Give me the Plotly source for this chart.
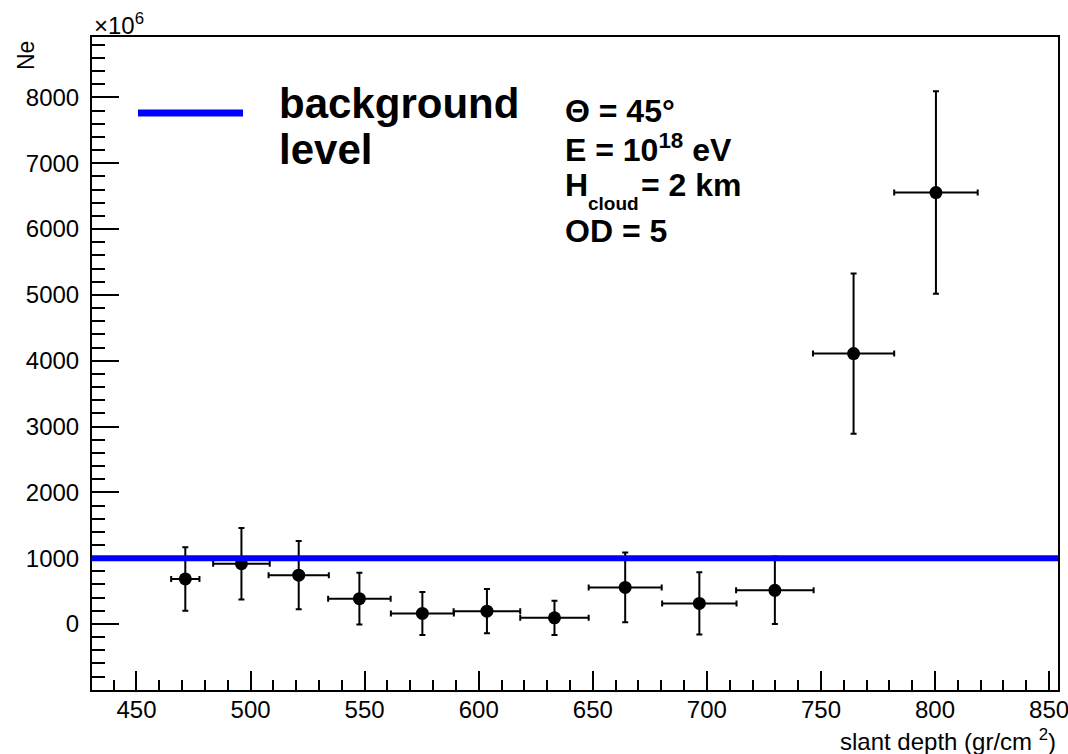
import plotly.graph_objects as go

# ---- data ----
slant_depth = [471.4, 496.0, 521.1, 547.7, 575.3, 603.6, 633.2, 664.2, 696.7, 729.8, 764.3, 800.4]
slant_err = [6.2, 12.4, 13.2, 13.7, 13.8, 14.6, 15.0, 16.0, 16.3, 17.0, 17.8, 18.3]
ne_values = [684, 915, 742, 385, 160, 195, 94, 555, 313, 512, 4108, 6555]
ne_err = [482, 542, 519, 393, 326, 335, 260, 530, 472, 512, 1218, 1537]
background_level = 1000

x_range = [430.5, 853.9]
y_range = [-1003, 8918]
x_major = [450, 500, 550, 600, 650, 700, 750, 800, 850]
y_major = [0, 1000, 2000, 3000, 4000, 5000, 6000, 7000, 8000]

FONT = "Liberation Sans, Arial, Helvetica, sans-serif"
W, H = 1068, 754
L, R, T, B = 92, 10, 37, 64


def px2paper(px, py):
    return (px - L) / (W - L - R), (H - B - py) / (H - T - B)


fig = go.Figure()

fig.add_trace(go.Scatter(
    x=slant_depth, y=ne_values, mode="markers",
    marker=dict(color="black", size=13, symbol="circle"),
    error_x=dict(type="data", array=slant_err, color="black", thickness=2, width=3),
    error_y=dict(type="data", array=ne_err, color="black", thickness=2, width=3),
    showlegend=False, cliponaxis=False,
))

# background level line
fig.add_shape(type="line", xref="paper", x0=0, x1=1, yref="y",
              y0=background_level, y1=background_level,
              line=dict(color="#0000ff", width=6), layer="above")

# legend sample line
lx0, ly = px2paper(138, 113)
lx1, _ = px2paper(243, 113)
fig.add_shape(type="line", xref="paper", yref="paper", x0=lx0, x1=lx1, y0=ly, y1=ly,
              line=dict(color="#0000ff", width=7))

annotations = []


def ann(text, px, py, size, xanchor="left", yanchor="middle", bold=False, angle=0, clamp=False):
    x, y = px2paper(px, py)
    if clamp:
        x = min(max(x, 0.0), 1.0)
    annotations.append(dict(
        text=f"<b>{text}</b>" if bold else text, x=x, y=y, xref="paper", yref="paper",
        xanchor=xanchor, yanchor=yanchor, showarrow=False, textangle=angle,
        font=dict(family=FONT, size=size, color="black")))


ann("background", 277, 104, 42, bold=True)
ann("level", 277, 149, 42, bold=True)
ann("Θ = 45°", 563, 111, 32, bold=True)
ann("E = 10<sup>18</sup> eV", 563, 148, 32, bold=True)
ann("H", 563, 185, 32, bold=True)
ann("cloud", 586, 203, 19, bold=True)
ann("= 2 km", 639, 185, 32, bold=True)
ann("OD = 5", 563, 231, 32, bold=True)
ann("×10<sup>6</sup>", 92, 24, 24, clamp=True)
ann("Ne", 26, 56, 23, xanchor="center", angle=-90)
ann("slant depth (gr/cm <sup>2</sup>)", 1058, 740, 24, xanchor="right", clamp=True)

fig.update_layout(
    width=W, height=H,
    margin=dict(l=L, r=R, t=T, b=B, autoexpand=False),
    paper_bgcolor="white", plot_bgcolor="white",
    annotations=annotations,
    font=dict(family=FONT, size=24, color="black"),
    xaxis=dict(range=x_range, tickvals=x_major, ticks="inside", ticklen=19, tickwidth=2,
               tickcolor="black", showline=True, linecolor="black", linewidth=2, mirror=True,
               showgrid=False, zeroline=False, automargin=False, ticklabeloverflow="allow",
               minor=dict(ticks="inside", ticklen=10, tickwidth=2, tickcolor="black", dtick=10,
                          tick0=450, showgrid=False),
               tickfont=dict(family=FONT, size=24), ticklabelstandoff=-3),
    yaxis=dict(range=y_range, tickvals=y_major, ticks="inside", ticklen=27, tickwidth=2,
               tickcolor="black", showline=True, linecolor="black", linewidth=2, mirror=True,
               showgrid=False, zeroline=False, automargin=False, ticklabeloverflow="allow",
               minor=dict(ticks="inside", ticklen=13, tickwidth=2, tickcolor="black", dtick=200,
                          tick0=0, showgrid=False),
               tickfont=dict(family=FONT, size=24), ticklabelstandoff=6),
)

fig.write_html("out.html")
